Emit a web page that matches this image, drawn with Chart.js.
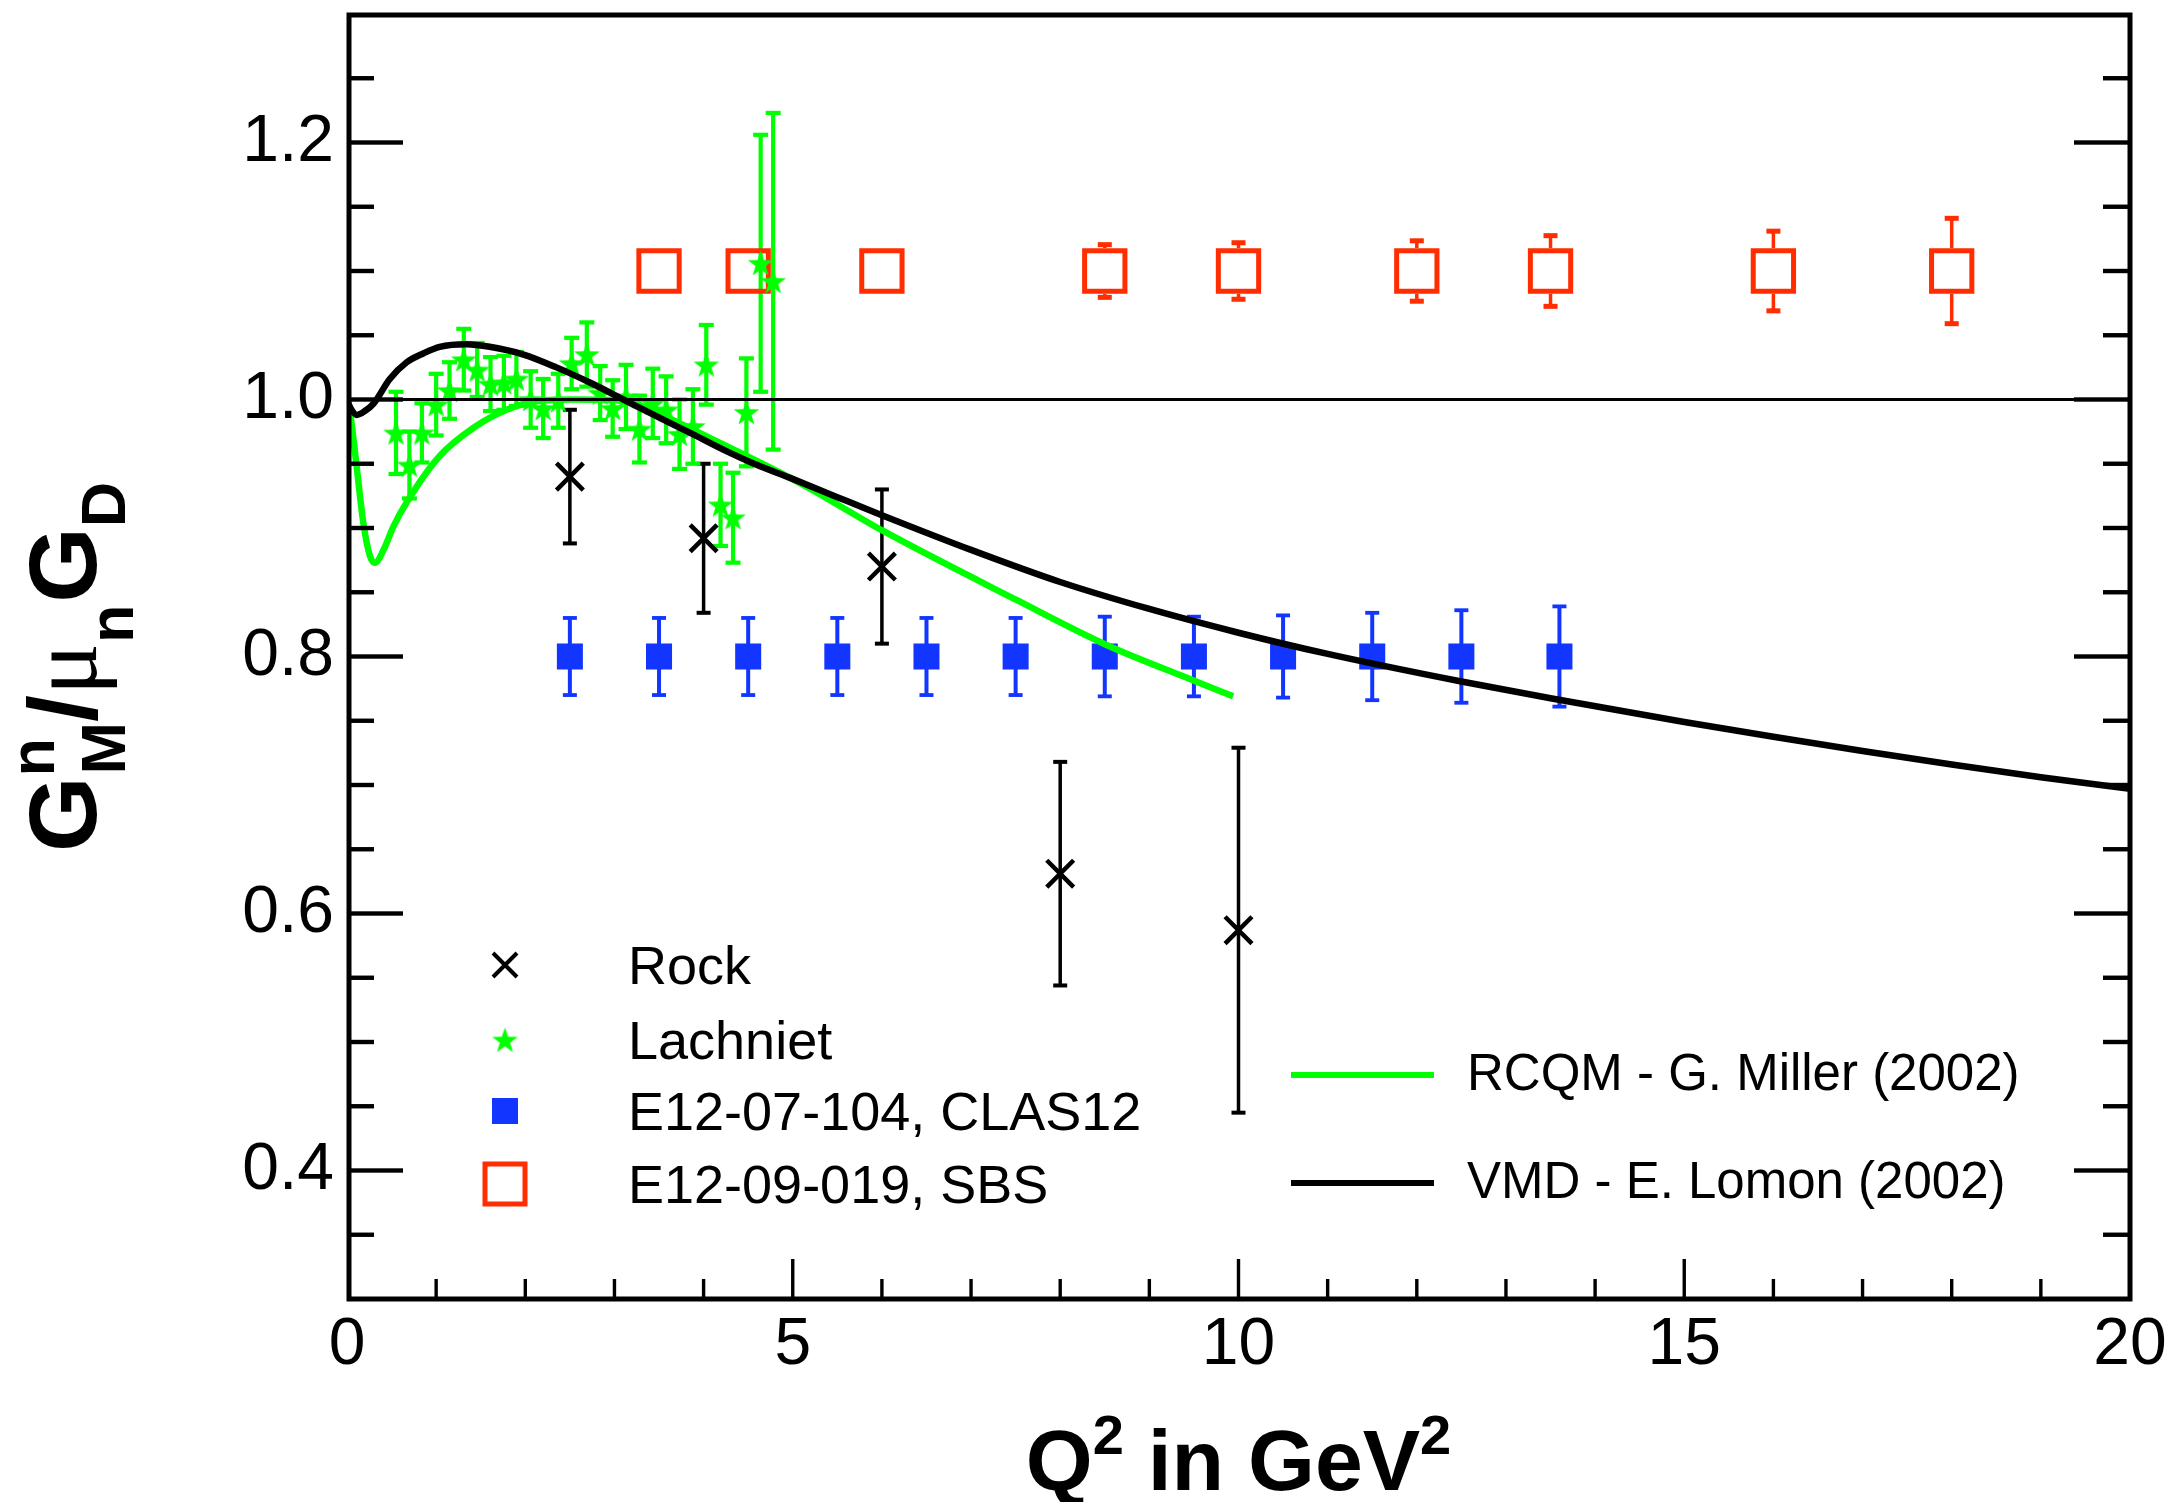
<!DOCTYPE html>
<html><head><meta charset="utf-8">
<script src="https://cdn.jsdelivr.net/npm/chart.js@4.4.1/dist/chart.umd.min.js"></script>
<style>html,body{margin:0;padding:0;background:#fff;overflow:hidden}canvas{display:block}</style>
</head><body>
<canvas id="c" width="2178" height="1502" style="width:2178px;height:1502px"></canvas>
<script>
// ---------------- data ----------------
const rockQ2  = [2.5, 4.0, 6.0, 8.0, 10.0];
const rockVal = [0.940, 0.892, 0.870, 0.631, 0.587];
const rockErr = [0.052, 0.058, 0.060, 0.087, 0.142];

const lachQ2  = [0.55,0.70,0.84,1.00,1.15,1.31,1.46,1.61,1.76,1.90,2.06,2.20,2.37,2.52,2.69,2.84,2.98,3.13,3.28,3.43,3.58,3.73,3.88,4.03,4.19,4.33,4.48,4.64,4.78];
const lachVal = [0.974,0.949,0.974,0.996,1.007,1.031,1.023,1.012,1.013,1.016,1.000,0.993,0.999,1.028,1.035,1.005,0.993,1.002,0.977,0.997,0.992,0.973,0.979,1.027,0.918,0.908,0.990,1.106,1.092];
const lachErr = [0.032,0.026,0.023,0.024,0.022,0.024,0.021,0.021,0.021,0.021,0.022,0.023,0.021,0.020,0.025,0.021,0.022,0.025,0.026,0.027,0.026,0.027,0.029,0.031,0.032,0.035,0.042,0.100,0.131];

const clasQ2  = [2.5,3.5,4.5,5.5,6.5,7.5,8.5,9.5,10.5,11.5,12.5,13.6];
const clasVal = [0.8,0.8,0.8,0.8,0.8,0.8,0.8,0.8,0.8,0.8,0.8,0.8];
const clasErr = [0.030,0.030,0.030,0.030,0.030,0.030,0.031,0.031,0.032,0.034,0.036,0.039];

const sbsQ2  = [3.5,4.5,6.0,8.5,10.0,12.0,13.5,16.0,18.0];
const sbsVal = [1.1,1.1,1.1,1.1,1.1,1.1,1.1,1.1,1.1];
const sbsErr = [0.012,0.012,0.014,0.0205,0.022,0.0235,0.0275,0.031,0.041];

const vmdQ2  = [0,0.05,0.11,0.2,0.3,0.48,0.67,0.86,1.04,1.34,1.60,1.98,2.35,2.73,3.10,3.47,3.85,4.22,4.60,4.97,5.5,6.0,7.0,8.0,9.0,10.0,11.0,12.5,13.5,15,16,17,18,19,20];
const vmdVal = [0.999,0.992,0.988,0.991,0.997,1.016,1.029,1.036,1.041,1.043,1.041,1.035,1.025,1.013,1.000,0.987,0.974,0.961,0.949,0.939,0.924,0.910,0.883,0.858,0.837,0.8185,0.802,0.7805,0.7675,0.749,0.7375,0.7265,0.716,0.706,0.697];

const rcqmQ2  = [0,0.034,0.108,0.183,0.258,0.314,0.41,0.52,0.67,1.04,1.42,1.79,2.16,2.54,3.1,3.5,4.04,5.08,6.02,7.51,8.52,9.51,9.94];
const rcqmVal = [1.0,0.99,0.948,0.904,0.878,0.873,0.883,0.901,0.920,0.956,0.978,0.992,0.999,1.0,0.999,0.989,0.971,0.935,0.8975,0.844,0.809,0.781,0.769];

const refQ2  = [0, 20];
const refVal = [1.0, 1.0];

const xTickVals = [0, 5, 10, 15, 20];
const xTickLabels = ['0', '5', '10', '15', '20'];
const yTickVals = [0.4, 0.6, 0.8, 1.0, 1.2];
const yTickLabels = ['0.4', '0.6', '0.8', '1.0', '1.2'];

const legendLeft = ['Rock', 'Lachniet', 'E12-07-104, CLAS12', 'E12-09-019, SBS'];
const legendRight = ['RCQM - G. Miller (2002)', 'VMD - E. Lomon (2002)'];

// ---------------- style ----------------
const FONT = '"Liberation Sans", Arial, Helvetica, sans-serif';
const GREEN = '#00ff00', BLUE = '#1236ff', RED = '#ff2d00', BLACK = '#000000';

function pts(xs, ys) { return xs.map((x, i) => ({ x: x, y: ys[i] })); }

function makeStar(R, color) {
  const s = Math.ceil(2 * R + 4);
  const c = document.createElement('canvas');
  c.width = s; c.height = s;
  const g = c.getContext('2d');
  const cx = s / 2, cy = s / 2 + R * 0.08, r = R * 0.4;
  g.beginPath();
  for (let i = 0; i < 10; i++) {
    const ang = -Math.PI / 2 + i * Math.PI / 5;
    const rad = (i % 2 === 0) ? R : r;
    g.lineTo(cx + rad * Math.cos(ang), cy + rad * Math.sin(ang));
  }
  g.closePath();
  g.fillStyle = color; g.fill();
  return c;
}
const starImg = makeStar(13.5, GREEN);

function drawErr(ctx, xs, ys, q, v, e, o) {
  ctx.fillStyle = o.color;
  for (let i = 0; i < q.length; i++) {
    const px = xs.getPixelForValue(q[i]);
    const pc = ys.getPixelForValue(v[i]);
    const pt = ys.getPixelForValue(v[i] + e[i]);
    const pb = ys.getPixelForValue(v[i] - e[i]);
    if (pc - pt > o.gap) {
      ctx.fillRect(px - o.stem / 2, pt, o.stem, (pc - o.gap) - pt);
      ctx.fillRect(px - o.capW / 2, pt - o.capT / 2, o.capW, o.capT);
    }
    if (pb - pc > o.gap) {
      ctx.fillRect(px - o.stem / 2, pc + o.gap, o.stem, pb - (pc + o.gap));
      ctx.fillRect(px - o.capW / 2, pb - o.capT / 2, o.capW, o.capT);
    }
  }
}

function drawYTitle(ctx) {
  const F = 97, S = 63;
  const b = s => 'bold ' + s + 'px ' + FONT;
  ctx.save();
  ctx.translate(96, 852);
  ctx.rotate(-Math.PI / 2);
  ctx.fillStyle = BLACK; ctx.textAlign = 'left'; ctx.textBaseline = 'alphabetic';
  let x = 0;
  ctx.font = b(F); ctx.fillText('G', x, 0); x += ctx.measureText('G').width;
  ctx.font = b(S);
  const wn = ctx.measureText('n').width, wm = ctx.measureText('M').width;
  ctx.fillText('n', x, -42); ctx.fillText('M', x + 2, 29); x += Math.max(wn, wm) + 2;
  ctx.font = b(F); ctx.fillText('/', x, 0); x += ctx.measureText('/').width;
  ctx.font = F + 'px "Liberation Serif", "DejaVu Serif", serif'; ctx.fillText('\u03bc', x, 0); x += ctx.measureText('\u03bc').width;
  ctx.font = b(S); ctx.fillText('n', x, 37); x += ctx.measureText('n').width + 2;
  ctx.font = b(F); ctx.fillText('G', x, 0); x += ctx.measureText('G').width;
  ctx.font = b(S); ctx.fillText('D', x, 29);
  ctx.restore();
}

function drawXTitle(ctx, cx) {
  const F = 86, S = 56;
  const b = s => 'bold ' + s + 'px ' + FONT;
  ctx.save();
  ctx.fillStyle = BLACK; ctx.textAlign = 'left'; ctx.textBaseline = 'alphabetic';
  ctx.font = b(F); const wQ = ctx.measureText('Q').width, wMid = ctx.measureText(' in GeV').width;
  ctx.font = b(S); const w2 = ctx.measureText('2').width;
  const total = wQ + w2 + wMid + w2;
  let x = cx - total / 2; const y = 1490;
  ctx.font = b(F); ctx.fillText('Q', x, y); x += wQ;
  ctx.font = b(S); ctx.fillText('2', x, y - 36); x += w2;
  ctx.font = b(F); ctx.fillText(' in GeV', x, y); x += wMid;
  ctx.font = b(S); ctx.fillText('2', x, y - 36);
  ctx.restore();
}

function drawLegend(ctx) {
  ctx.save();
  const mx = 505, rows = [965, 1040, 1111, 1184], tx = 628, FS = 54;
  ctx.strokeStyle = BLACK; ctx.lineWidth = 4;
  ctx.beginPath();
  ctx.moveTo(mx - 12, rows[0] - 12); ctx.lineTo(mx + 12, rows[0] + 12);
  ctx.moveTo(mx + 12, rows[0] - 12); ctx.lineTo(mx - 12, rows[0] + 12);
  ctx.stroke();
  ctx.drawImage(starImg, mx - starImg.width / 2, rows[1] - starImg.height / 2);
  ctx.fillStyle = BLUE; ctx.fillRect(mx - 13, rows[2] - 13, 26, 26);
  ctx.strokeStyle = RED; ctx.lineWidth = 5; ctx.strokeRect(mx - 20, rows[3] - 20, 40, 40);
  ctx.fillStyle = BLACK; ctx.font = FS + 'px ' + FONT; ctx.textBaseline = 'alphabetic'; ctx.textAlign = 'left';
  legendLeft.forEach((t, i) => ctx.fillText(t, tx, rows[i] + 0.358 * FS));
  const ly = [1075, 1183], FR = 51;
  ctx.lineWidth = 6;
  [GREEN, BLACK].forEach((c, i) => {
    ctx.strokeStyle = c; ctx.beginPath(); ctx.moveTo(1291, ly[i]); ctx.lineTo(1434, ly[i]); ctx.stroke();
  });
  ctx.font = FR + 'px ' + FONT; ctx.fillStyle = BLACK;
  legendRight.forEach((t, i) => ctx.fillText(t, 1467, ly[i] - 3 + 0.358 * FR));
  ctx.restore();
}

const decor = {
  id: 'decor',
  beforeDatasetsDraw(chart) {
    const { ctx, scales: { x, y } } = chart;
    ctx.save();
    drawErr(ctx, x, y, rockQ2, rockVal, rockErr, { color: BLACK, stem: 3.5, capW: 14, capT: 4, gap: 0 });
    drawErr(ctx, x, y, lachQ2, lachVal, lachErr, { color: GREEN, stem: 4.2, capW: 15, capT: 4.2, gap: 0 });
    drawErr(ctx, x, y, clasQ2, clasVal, clasErr, { color: BLUE, stem: 4, capW: 14, capT: 3.8, gap: 12 });
    drawErr(ctx, x, y, sbsQ2, sbsVal, sbsErr, { color: RED, stem: 3.5, capW: 14, capT: 5, gap: 23 });
    ctx.restore();
  },
  afterDraw(chart) {
    const { ctx, chartArea: a, scales: { x, y } } = chart;
    ctx.save();
    ctx.fillStyle = BLACK;
    for (let k = 1; k < 20; k++) {
      const v = 0.3 + k * 0.05;
      const major = yTickVals.some(t => Math.abs(t - v) < 1e-6);
      const len = major ? 56 : 27;
      const py = y.getPixelForValue(v);
      ctx.fillRect(a.left, py - 2.2, len, 4.4);
      ctx.fillRect(a.right - len, py - 2.2, len, 4.4);
    }
    for (let v = 1; v < 20; v++) {
      const major = xTickVals.indexOf(v) >= 0;
      const len = major ? 40 : 20;
      const px = x.getPixelForValue(v);
      ctx.fillRect(px - 1.7, a.bottom - len, 3.4, len);
    }
    ctx.strokeStyle = BLACK; ctx.lineWidth = 5;
    ctx.strokeRect(a.left + 2, a.top + 1, a.right - a.left - 2, a.bottom - a.top - 1);
    ctx.restore();
    drawYTitle(ctx);
    drawXTitle(ctx, (a.left + a.right) / 2);
    drawLegend(ctx);
  }
};

new Chart(document.getElementById('c').getContext('2d'), {
  type: 'scatter',
  data: {
    datasets: [
      { label: 'ref', type: 'line', data: pts(refQ2, refVal), showLine: true, borderColor: BLACK, borderWidth: 3, pointRadius: 0, fill: false, order: 0 },
      { label: legendRight[1], type: 'line', data: pts(vmdQ2, vmdVal), showLine: true, borderColor: BLACK, borderWidth: 6.5, pointRadius: 0, fill: false, cubicInterpolationMode: 'monotone', order: 1 },
      { label: legendRight[0], type: 'line', data: pts(rcqmQ2, rcqmVal), showLine: true, borderColor: GREEN, borderWidth: 6.5, pointRadius: 0, fill: false, cubicInterpolationMode: 'monotone', order: 2 },
      { label: legendLeft[0], data: pts(rockQ2, rockVal), pointStyle: 'crossRot', pointRadius: 19, borderColor: BLACK, borderWidth: 4.5, order: 3 },
      { label: legendLeft[1], data: pts(lachQ2, lachVal), pointStyle: starImg, pointRadius: 13, order: 4 },
      { label: legendLeft[2], data: pts(clasQ2, clasVal), pointStyle: 'rect', pointRadius: 18.4, backgroundColor: BLUE, borderColor: BLUE, borderWidth: 0, order: 5 },
      { label: legendLeft[3], data: pts(sbsQ2, sbsVal), pointStyle: 'rect', pointRadius: 28.5, backgroundColor: 'rgba(0,0,0,0)', borderColor: RED, borderWidth: 5, order: 6 }
    ]
  },
  options: {
    responsive: false, animation: false, devicePixelRatio: 1, events: [],
    layout: { autoPadding: false, padding: { left: 0, right: 48, top: 14, bottom: 0 } },
    plugins: { legend: { display: false }, tooltip: { enabled: false } },
    scales: {
      x: {
        type: 'linear', position: 'bottom', min: 0, max: 20,
        grid: { display: false, drawTicks: false }, border: { display: false },
        afterBuildTicks: s => { s.ticks = xTickVals.map(v => ({ value: v })); },
        afterFit: s => { s.height = 203; s.paddingLeft = 0; s.paddingRight = 0; },
        ticks: { autoSkip: false, maxRotation: 0, padding: 7, color: BLACK, font: { family: FONT, size: 66 },
          callback: v => { const i = xTickVals.indexOf(v); return i >= 0 ? xTickLabels[i] : ''; } }
      },
      y: {
        type: 'linear', position: 'left', min: 0.3, max: 1.3,
        grid: { display: false, drawTicks: false }, border: { display: false },
        afterBuildTicks: s => { s.ticks = yTickVals.map(v => ({ value: v })); },
        afterFit: s => { s.width = 347; s.paddingTop = 0; s.paddingBottom = 0; },
        ticks: { autoSkip: false, padding: 13, color: BLACK, font: { family: FONT, size: 66 },
          callback: v => { const i = yTickVals.findIndex(t => Math.abs(t - v) < 1e-6); return i >= 0 ? yTickLabels[i] : ''; } }
      }
    }
  },
  plugins: [decor]
});
</script>
</body></html>
